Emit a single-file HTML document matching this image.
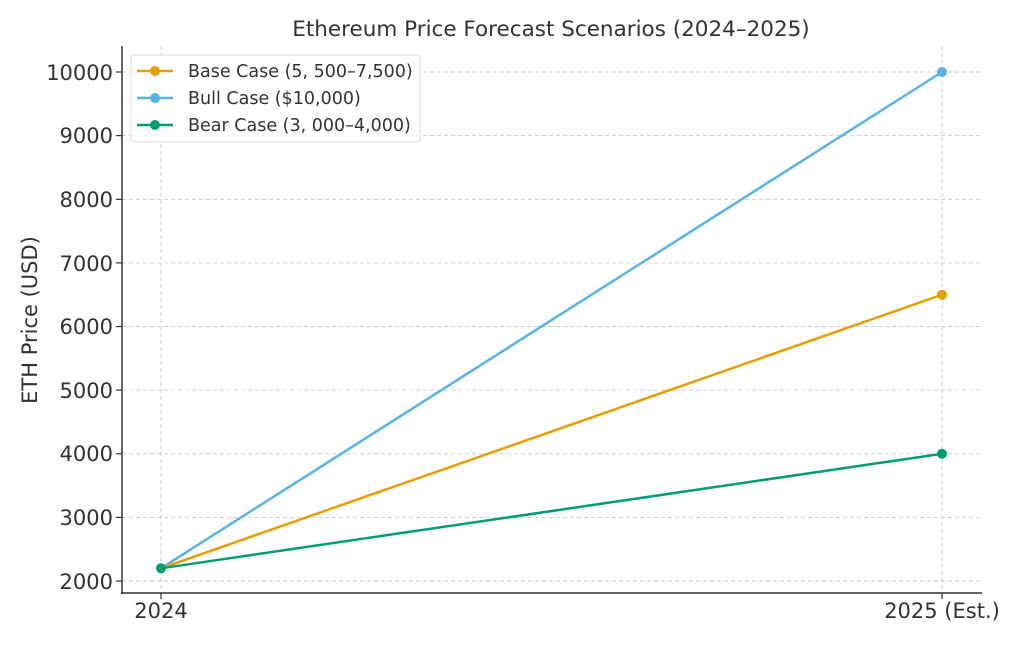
<!DOCTYPE html><html><head><style>body{margin:0;background:#fff}</style></head><body>
<svg width="1024" height="640" xmlns="http://www.w3.org/2000/svg" font-family="DejaVu Sans, sans-serif">
<rect width="1024" height="640" fill="#fff"/>
<g stroke="#ccc" stroke-dasharray="4,3" stroke-width="0.9">
<line x1="161" y1="46" x2="161" y2="593"/><line x1="942" y1="46" x2="942" y2="593"/>
<line x1="122" y1="581" x2="982" y2="581"/><line x1="122" y1="517.4" x2="982" y2="517.4"/>
<line x1="122" y1="453.8" x2="982" y2="453.8"/><line x1="122" y1="390.1" x2="982" y2="390.1"/>
<line x1="122" y1="326.5" x2="982" y2="326.5"/><line x1="122" y1="262.9" x2="982" y2="262.9"/>
<line x1="122" y1="199.3" x2="982" y2="199.3"/><line x1="122" y1="135.6" x2="982" y2="135.6"/>
<line x1="122" y1="72" x2="982" y2="72"/>
</g>
<g stroke="#333" stroke-width="1.5"><line x1="122" y1="46" x2="122" y2="594"/><line x1="121" y1="593" x2="982" y2="593"/></g>
<g stroke="#333" stroke-width="1.2">
<line x1="116" y1="581" x2="122" y2="581"/><line x1="116" y1="517.4" x2="122" y2="517.4"/><line x1="116" y1="453.8" x2="122" y2="453.8"/><line x1="116" y1="390.1" x2="122" y2="390.1"/><line x1="116" y1="326.5" x2="122" y2="326.5"/><line x1="116" y1="262.9" x2="122" y2="262.9"/><line x1="116" y1="199.3" x2="122" y2="199.3"/><line x1="116" y1="135.6" x2="122" y2="135.6"/><line x1="116" y1="72" x2="122" y2="72"/>
<line x1="161" y1="593" x2="161" y2="599"/><line x1="942" y1="593" x2="942" y2="599"/></g>
<g fill="#333" font-size="21" text-anchor="end">
<text x="113" y="589">2000</text><text x="113" y="525">3000</text><text x="113" y="461">4000</text><text x="113" y="398">5000</text><text x="113" y="334">6000</text><text x="113" y="271">7000</text><text x="113" y="207">8000</text><text x="113" y="143">9000</text><text x="113" y="80">10000</text>
</g>
<g fill="#333" font-size="21" text-anchor="middle"><text x="161" y="618">2024</text><text x="942" y="618">2025 (Est.)</text></g>
<text x="551" y="36" fill="#333" font-size="21.5" text-anchor="middle">Ethereum Price Forecast Scenarios (2024–2025)</text>
<text transform="translate(37,320) rotate(-90)" fill="#333" font-size="21" text-anchor="middle">ETH Price (USD)</text>
<g stroke-width="2.5">
<line x1="161" y1="568.3" x2="942" y2="72" stroke="#56b4e9"/>
<line x1="161" y1="568.3" x2="942" y2="294.7" stroke="#e69f00"/>
<line x1="161" y1="568.3" x2="942" y2="453.8" stroke="#009e73"/>
</g>
<circle cx="942" cy="72" r="5" fill="#56b4e9"/><circle cx="942" cy="294.7" r="5" fill="#e69f00"/><circle cx="942" cy="453.8" r="5" fill="#009e73"/>
<circle cx="161" cy="568.3" r="5" fill="#009e73"/>
<rect x="131" y="55" width="289" height="87" rx="3" fill="#fff" fill-opacity="0.85" stroke="#ddd"/>
<g stroke-width="2.5"><line x1="137" y1="71" x2="173" y2="71" stroke="#e69f00"/><line x1="137" y1="98" x2="173" y2="98" stroke="#56b4e9"/><line x1="137" y1="125" x2="173" y2="125" stroke="#009e73"/></g>
<circle cx="155" cy="71" r="5" fill="#e69f00"/><circle cx="155" cy="98" r="5" fill="#56b4e9"/><circle cx="155" cy="125" r="5" fill="#009e73"/>
<g fill="#333" font-size="17.5"><text x="188" y="77">Base Case (5, 500–7,500)</text><text x="188" y="104">Bull Case ($10,000)</text><text x="188" y="131">Bear Case (3, 000–4,000)</text></g>
</svg></body></html>
